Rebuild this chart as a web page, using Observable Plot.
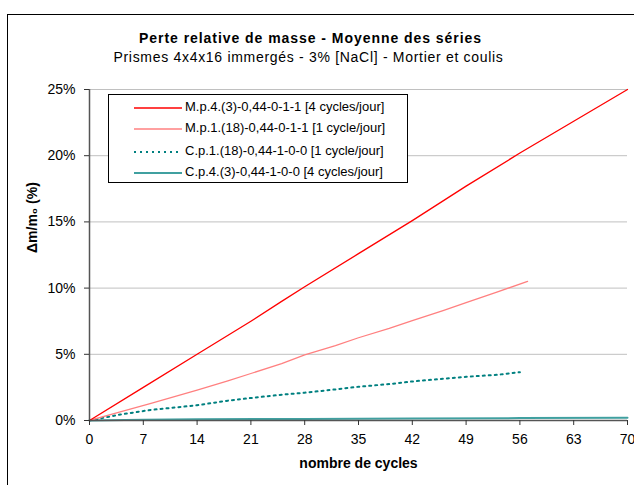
<!DOCTYPE html>
<html><head><meta charset="utf-8">
<script src="https://cdn.jsdelivr.net/npm/d3@7"></script>
<script src="https://cdn.jsdelivr.net/npm/@observablehq/plot@0.6"></script>
<style>
html,body{margin:0;padding:0;background:#fff;overflow:hidden;}
body{width:634px;height:485px;position:relative;font-family:"Liberation Sans",Arial,sans-serif;}
#frame{position:absolute;left:7px;top:14px;width:700px;height:600px;border:1.5px solid #000;box-sizing:border-box;}
#title{position:absolute;left:0;width:621px;top:30px;text-align:center;font-size:14px;font-weight:bold;letter-spacing:0.95px;color:#000;}
#subtitle{position:absolute;left:0;width:617px;top:49px;text-align:center;font-size:14px;letter-spacing:0.7px;color:#000;}
#legend{position:absolute;left:108px;top:94px;width:300px;height:89px;border:1px solid #000;box-sizing:border-box;background:#fff;font-size:13px;}
.row{position:absolute;left:24px;height:15px;line-height:15px;white-space:nowrap;}
.row svg{vertical-align:middle;margin-right:2px;}
#chart{position:absolute;left:0;top:0;}
</style></head>
<body>
<div id="chart"></div>
<div id="frame"></div>
<div id="title">Perte relative de masse - Moyenne des séries</div>
<div id="subtitle">Prismes 4x4x16 immergés - 3% [NaCl] - Mortier et coulis</div>
<div id="legend"></div>
<script>
const seriesNames = [
  "M.p.4.(3)-0,44-0-1-1 [4 cycles/jour]",
  "M.p.1.(18)-0,44-0-1-1 [1 cycle/jour]",
  "C.p.1.(18)-0,44-1-0-0 [1 cycle/jour]",
  "C.p.4.(3)-0,44-1-0-0 [4 cycles/jour]"
];
const mp4Cycles = [0, 7, 14, 21, 25, 28, 35, 42, 49, 56, 63, 70];
const mp4Values = [0, 2.5, 5.0, 7.5, 9.0, 10.1, 12.6, 15.1, 17.7, 20.2, 22.6, 25.0];
const mp1Cycles = [0, 4, 8, 14, 18, 21, 25, 28, 32, 35, 39, 42, 46, 49, 53, 57];
const mp1Values = [0, 0.65, 1.3, 2.3, 3.0, 3.55, 4.3, 4.95, 5.65, 6.25, 6.95, 7.55, 8.3, 8.9, 9.7, 10.5];
const cp1Cycles = [0, 4, 8, 14, 18, 21, 25, 28, 32, 35, 39, 42, 46, 49, 53, 56];
const cp1Values = [0, 0.45, 0.8, 1.15, 1.5, 1.7, 1.95, 2.1, 2.35, 2.55, 2.75, 2.95, 3.15, 3.3, 3.45, 3.65];
const cp4Cycles = [0, 7, 14, 28, 42, 56, 70];
const cp4Values = [0, 0.06, 0.09, 0.12, 0.15, 0.18, 0.2];
const xTicks = [0, 7, 14, 21, 28, 35, 42, 49, 56, 63, 70];
const yTicks = [0, 5, 10, 15, 20, 25];

const styles = [
  {stroke: "#ff0000", strokeWidth: 1.3, dash: null},
  {stroke: "#ff8080", strokeWidth: 1.3, dash: null},
  {stroke: "#008080", strokeWidth: 2, dash: "2,4"},
  {stroke: "#40a0a0", strokeWidth: 2, dash: null}
];
const toRows = (xs, ys) => xs.map((x, i) => ({x, y: ys[i]}));
const data = [toRows(mp4Cycles, mp4Values), toRows(mp1Cycles, mp1Values), toRows(cp1Cycles, cp1Values), toRows(cp4Cycles, cp4Values)];

const lineMarks = data.map((d, i) => Plot.line(d, {x: "x", y: "y", stroke: styles[i].stroke, strokeWidth: styles[i].strokeWidth, strokeDasharray: styles[i].dash}));

const plot = Plot.plot({
  width: 634, height: 485,
  marginLeft: 89, marginRight: 7, marginTop: 89, marginBottom: 65,
  style: {fontFamily: "'Liberation Sans', Arial, sans-serif", fontSize: "14px", background: "transparent", color: "#000"},
  x: {domain: [0, 70], ticks: xTicks, label: null},
  y: {domain: [0, 25], ticks: yTicks, label: null},
  marks: [
    Plot.gridY(yTicks.filter(t => t > 0), {stroke: "#c0c0c0", strokeOpacity: 1, strokeWidth: 1}),
    ...lineMarks.slice().reverse(),
    Plot.ruleY([0], {stroke: "#555", strokeWidth: 1.5}),
    Plot.ruleX([0], {stroke: "#555", strokeWidth: 1.5}),
    Plot.axisX({ticks: xTicks, tickSize: 5, tickPadding: 9, stroke: "#333", fontSize: 14, label: null}),
    Plot.axisY({ticks: yTicks, tickSize: 5, tickPadding: 9, stroke: "#333", fontSize: 14, tickFormat: d => d + "%", label: null}),
    Plot.text(["nombre de cycles"], {frameAnchor: "bottom", dy: 47, fontWeight: "bold", fontSize: 14}),
    Plot.text(["Δm/m₀ (%)"], {frameAnchor: "left", dx: -57, dy: -2, rotate: -90, fontWeight: "bold", fontSize: 14})
  ]
});
document.getElementById("chart").appendChild(plot);

const legend = document.getElementById("legend");
const rowTops = [4, 25, 48, 69];
seriesNames.forEach((name, i) => {
  const row = document.createElement("div");
  row.className = "row";
  row.style.top = rowTops[i] + "px";
  const s = styles[i];
  row.innerHTML = `<svg width="50" height="6"><line x1="1" x2="49" y1="3" y2="3" stroke="${s.stroke}" stroke-width="${s.strokeWidth}" ${s.dash ? `stroke-dasharray="${s.dash}"` : ""}/></svg>` + name;
  legend.appendChild(row);
});
</script>
</body></html>
